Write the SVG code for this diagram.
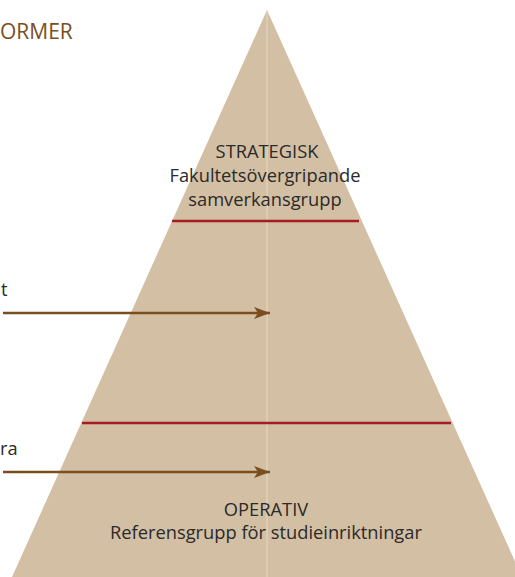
<svg xmlns="http://www.w3.org/2000/svg" width="515" height="577" viewBox="0 0 515 577">
<defs>
<marker id="ah" markerWidth="16" markerHeight="12" refX="16" refY="6" orient="auto" markerUnits="userSpaceOnUse">
<path d="M0,0 L16,6 L0,12 L4,6 Z" fill="#7a4e1f"/>
</marker>
</defs>
<style>
.lbl{font-family:"Open Sans","Noto Sans",sans-serif;font-size:18.3px;fill:#2a2a2a;text-anchor:middle}
.side{font-family:"Open Sans","Noto Sans",sans-serif;font-size:18.3px;fill:#2a2a2a}
.title{font-family:"Open Sans","Noto Sans",sans-serif;font-size:21px;fill:#7a4e1f}
.div{stroke:#a51d21;stroke-width:2.5}
.arr{stroke:#7a4e1f;stroke-width:2.5;fill:none}
</style>
<g id="pyramid">
<polygon points="267,10 522,577 12,577" fill="#d3bfa3"/>
<line x1="267" y1="10" x2="267" y2="577" stroke="#e6d9c4" stroke-width="1"/>
<line class="div" x1="172" y1="221" x2="359" y2="221"/>
<line class="div" x1="82" y1="423" x2="451" y2="423"/>
</g>
<g id="title"><text class="title" x="0" y="39">ORMER</text></g>
<g id="strategisk">
<text class="lbl" x="267" y="158">STRATEGISK</text>
<text class="lbl" x="265" y="182">Fakultetsövergripande</text>
<text class="lbl" x="265" y="206">samverkansgrupp</text>
</g>
<g id="operativ">
<text class="lbl" x="266" y="516">OPERATIV</text>
<text class="lbl" x="266" y="539">Referensgrupp för studieinriktningar</text>
</g>
<g id="side1"><text class="side" x="1" y="296">t</text></g>
<g id="side2"><text class="side" x="0" y="455">ra</text></g>
<g id="connectors">
<line class="arr" x1="3" y1="313" x2="270" y2="313" marker-end="url(#ah)"/>
<line class="arr" x1="3" y1="472" x2="270" y2="472" marker-end="url(#ah)"/>
</g>
</svg>
